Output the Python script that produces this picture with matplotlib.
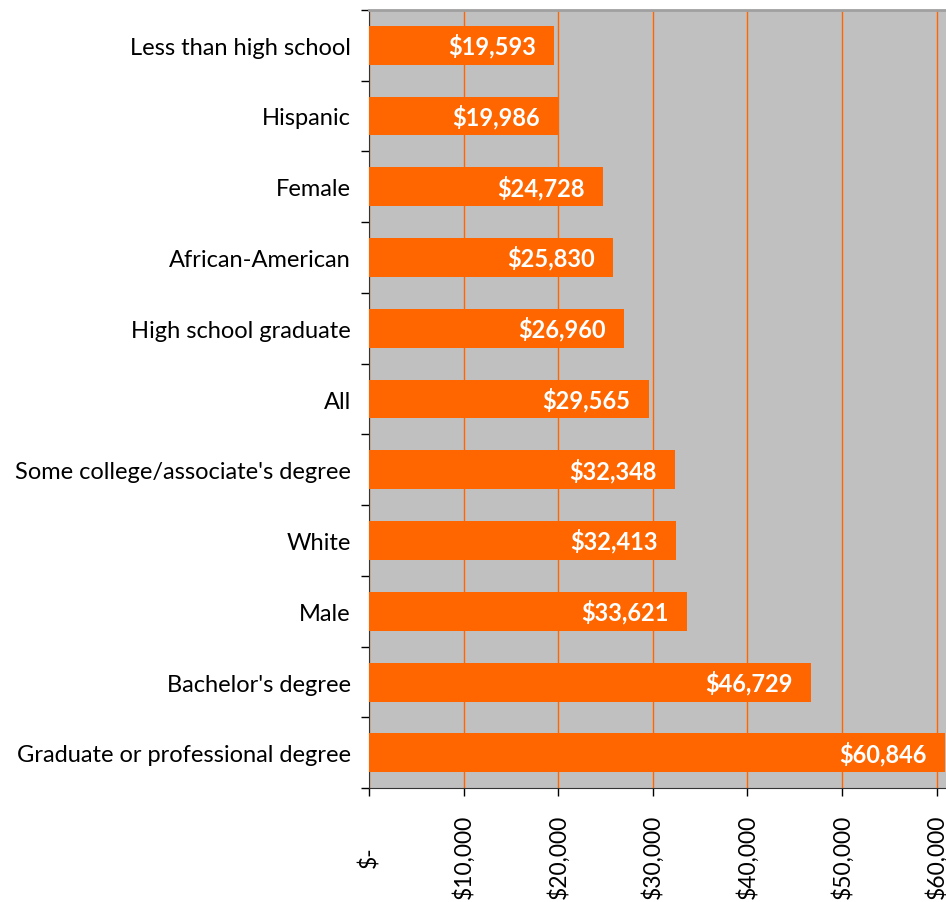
"""Median earnings by group, horizontal bars."""
import numpy as np
import matplotlib; matplotlib.use('Agg'); import matplotlib.pyplot as plt

categories = ['Less than high school', 'Hispanic', 'Female', 'African-American',
              'High school graduate', 'All', "Some college/associate's degree",
              'White', 'Male', "Bachelor's degree", 'Graduate or professional degree']
earnings = [19593, 19986, 24728, 25830, 26960, 29565, 32348, 32413, 33621, 46729, 60846]
xticks = [0, 10000, 20000, 30000, 40000, 50000, 60000]
xticklabels = ['$-', '$10,000', '$20,000', '$30,000', '$40,000', '$50,000', '$60,000']

plt.rcParams['font.family'] = ['Lato', 'DejaVu Sans']
fig = plt.figure(figsize=(9.46, 9.03), dpi=100)
ax = fig.add_axes([0.390, 0.126, 0.610, 0.862])
ax.set_facecolor('#C0C0C0')

y = np.arange(len(categories))
ax.barh(y, earnings, height=0.55, color='#FF6600', zorder=3)
for yi, v in zip(y, earnings):
    ax.text(v - 1900, yi, f'${v:,}', ha='right', va='center', color='white',
            fontsize=17, fontweight='bold', zorder=4)

ax.set_xlim(0, 61000); ax.set_ylim(len(categories) - 0.5, -0.5)
ax.set_yticks(y); ax.set_yticklabels(categories, fontsize=17)
ax.set_yticks(np.arange(len(categories) + 1) - 0.5, minor=True)
ax.tick_params(axis='y', which='major', length=0, pad=13)
ax.tick_params(axis='y', which='minor', length=6, direction='out', width=1)
ax.set_xticks(xticks); ax.set_xticklabels(xticklabels, rotation=90, fontsize=16.5, va='center')
ax.tick_params(axis='x', length=6, direction='out', width=1, pad=43)
ax.grid(axis='x', color='#FF6600', lw=1, zorder=1)
ax.spines['right'].set_visible(False)
ax.spines['top'].set_color('#A0A0A0'); ax.spines['top'].set_linewidth(2)
ax.spines['left'].set_color('#333333'); ax.spines['bottom'].set_color('#333333')
fig.savefig('out.png', dpi=100)
